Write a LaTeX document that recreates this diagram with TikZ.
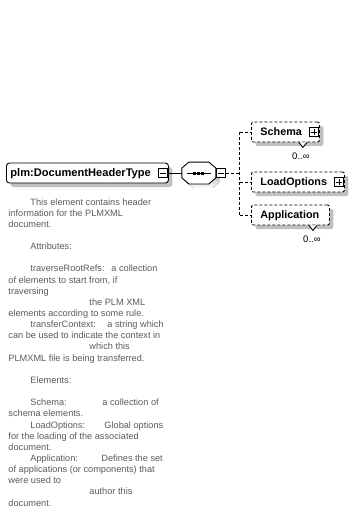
\documentclass[tikz,border=0pt]{standalone}
\usepackage{fontspec}
\setmainfont{Liberation Sans}
\usetikzlibrary{positioning, calc, shadows}
\definecolor{shade}{RGB}{192,192,192}
\definecolor{note}{RGB}{90,90,90}
% outline of the sequence compositor
\newcommand{\seqoutline}[1]{($(#1.north west)+(7,0)$) -- ($(#1.north east)+(-7,0)$) -- ($(#1.north east)+(0,6)$) -- ($(#1.south east)+(0,-6)$) -- ($(#1.south east)+(-7,0)$) -- ($(#1.south west)+(7,0)$) -- ($(#1.south west)+(0,-6)$) -- ($(#1.north west)+(0,6)$) -- cycle}

\tikzset{
  elembox/.style={draw, fill=white, rounded corners=2pt, minimum height=20pt, inner ysep=0pt,
    text height=8.5pt, text depth=2.5pt, align=left, anchor=west,
    font=\bfseries\fontsize{10.8}{13}\selectfont,
    general shadow={fill=shade, shadow xshift=4pt, shadow yshift=-4pt}},
  optbox/.style={elembox, dash pattern=on 3pt off 2pt},
  minusbox/.style={draw, fill=white, minimum size=9pt, inner sep=0pt,
    path picture={\draw ([xshift=1.5pt]path picture bounding box.west) -- ([xshift=-1.5pt]path picture bounding box.east);}},
  plusbox/.style={draw, fill=white, minimum size=9pt, inner sep=0pt,
    path picture={\draw ([xshift=1.5pt]path picture bounding box.west) -- ([xshift=-1.5pt]path picture bounding box.east);
      \draw ([yshift=-1.5pt]path picture bounding box.north) -- ([yshift=1.5pt]path picture bounding box.south);}},
  dashline/.style={dash pattern=on 3pt off 2pt},
  card/.style={font=\fontsize{9.5}{11}\selectfont, inner sep=0pt},
  notetext/.style={note, font=\fontsize{9.2}{11}\selectfont, inner sep=0pt, anchor=base west}
}

\begin{document}
\begin{tikzpicture}[x=1pt, y=-1pt, line width=0.9pt]
  \useasboundingbox (0,0) rectangle (362,523);

  % the type and its sequence
  \node[elembox, rounded corners=3pt, inner xsep=4pt, text width=154pt,
    font=\bfseries\fontsize{11.1}{13}\selectfont] (hdr) at (6,173) {plm:DocumentHeaderType};
  \node[minusbox, anchor=east] (hdrm) at ([xshift=-1pt]hdr.east) {};
  \node[minimum width=33pt, minimum height=21pt, inner sep=0pt, right=13pt of hdr] (seq) {};
  \fill[shade, transform canvas={shift={(4pt,-4pt)}}] \seqoutline{seq};
  \draw[fill=white] \seqoutline{seq};
  \draw ($(seq.west)+(5,0)$) -- ($(seq.east)+(-5,0)$);
  \foreach \dx in {-4,0,4}
    \fill ($(seq.center)+(\dx-1.5,-1.5)$) rectangle ++(3,3);
  \node[minusbox, right=0pt of seq] (seqm) {};
  \draw (hdr.east) -- (seq.west);

  % child elements
  \node[optbox, inner xsep=9pt, text width=50pt] (sch) at (251,132) {Schema};
  \node[plusbox, anchor=east] (schp) at ([xshift=-1pt]sch.east) {};
  \node[optbox, inner xsep=9pt, text width=75pt] (lopt) at (251,182) {LoadOptions};
  \node[plusbox, anchor=east] (loptp) at ([xshift=-1pt]lopt.east) {};
  \node[optbox, inner xsep=9pt, text width=60pt] (app) at (251,215) {Application};

  % repeat marks
  \foreach \c in {sch, app}
    \draw[fill=white] ($(\c.south east)+(-21,0)$) -- ++(4,5) -- ++(4,-5);
  \node[card] (schn) at ($(sch.south east)+(-19,14)$) {0..∞};
  \node[card] (appn) at ($(app.south east)+(-18,14)$) {0..∞};

  % connectors
  \coordinate[right=14pt of seqm] (trunk);
  \draw[dashline] (seqm.east) -- (trunk);
  \draw[dashline] (trunk |- sch.west) -- (trunk |- app.west);
  \foreach \c in {sch, lopt, app}
    \draw[dashline] (trunk |- \c.west) -- (\c.west);

  % annotation
  \foreach \i/\x/\t in {0/30/This element contains header, 1/8/information for the PLMXML, 2/8/document.,
      4/30/Attributes:, 6/30/traverseRootRefs:, 7/8/{of elements to start from, if}, 8/8/traversing,
      9/89/the PLM XML, 10/8/elements according to some rule., 11/30/transferContext:,
      12/8/can be used to indicate the context in, 13/89/which this, 14/8/PLMXML file is being transferred.,
      16/30/Elements:, 18/30/Schema:, 19/8/schema elements., 20/30/LoadOptions:,
      21/8/for the loading of the associated, 22/8/document., 23/30/Application:,
      24/8/of applications (or components) that, 25/8/were used to, 26/89/author this, 27/8/document.}
    \node[notetext] (d\i) at (\x, {205+11.15*\i}) {\t};
  \foreach \i/\x/\t in {6/111/a collection, 11/107/a string which, 18/102/a collection of,
      20/104/Global options, 23/101/Defines the set}
    \node[notetext] (v\i) at (\x, {205+11.15*\i}) {\t};
\end{tikzpicture}
\end{document}
